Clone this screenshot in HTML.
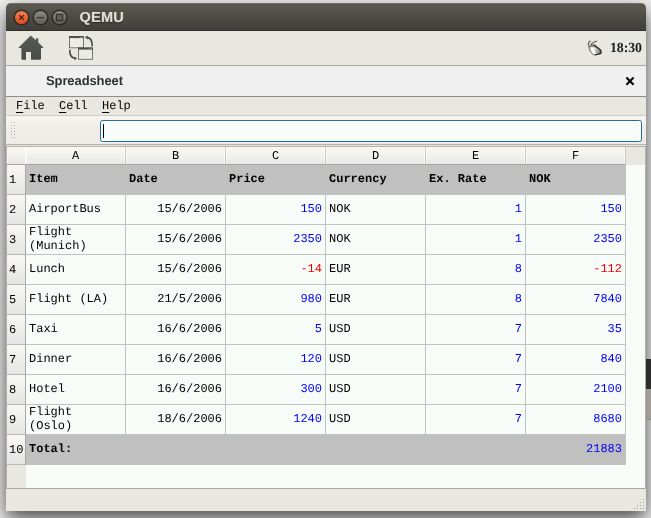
<!DOCTYPE html>
<html>
<head>
<meta charset="utf-8">
<title>QEMU</title>
<style>
html,body{margin:0;padding:0;}
body{text-rendering:geometricPrecision;width:651px;height:518px;overflow:hidden;position:relative;background:#e9e9e9;font-family:"Liberation Mono",monospace;font-size:12px;color:#000;}
#desk{position:absolute;left:0;top:0;width:651px;height:518px;background:#f0f0f0;}
#deskr1{position:absolute;left:646px;top:359px;width:5px;height:30px;background:linear-gradient(90deg,#2a2a2a,#2e2e2e);}
#deskr2{position:absolute;left:646px;top:389px;width:5px;height:30px;background:linear-gradient(90deg,#9c9894,#a29e9a);}
#deskr3{position:absolute;left:646px;top:419px;width:5px;height:1px;background:#8c8c8c;}
#win{will-change:transform;position:absolute;left:6px;top:3px;width:640px;height:508px;background:#e8e8e0;border-radius:5px 5px 0 0;box-shadow:0 8px 20px 0 rgba(0,0,0,.7);overflow:hidden;}
#tb{position:absolute;left:0;top:0;width:640px;height:28px;background:linear-gradient(#5c5a50,#3e3d38);box-shadow:inset 0 1px 0 rgba(255,255,255,.13),inset 0 -1px 0 rgba(0,0,0,.22);}
.wb{position:absolute;top:7px;width:15px;height:15px;border-radius:50%;box-sizing:border-box;border:1px solid #33322d;}
#wtitle{position:absolute;left:73.5px;top:7px;font-family:"Liberation Sans",sans-serif;font-weight:bold;font-size:14.5px;color:#e4e0d6;line-height:17px;letter-spacing:.25px;text-shadow:-.5px 0 0 rgba(60,100,220,.5),.5px 0 0 rgba(235,150,60,.5),0 1px 1px rgba(0,0,0,.5);}
#content{position:absolute;left:0;top:28px;width:640px;height:480px;background:#e8e8e0;}
#clock{position:absolute;left:604px;top:10px;font-family:"Liberation Serif",serif;font-weight:bold;font-size:13.9px;color:#17201f;line-height:16px;letter-spacing:-.1px;text-rendering:geometricPrecision;}
#l1{position:absolute;left:0;top:34px;width:640px;height:1px;background:#a9a7a0;}
#ttl{position:absolute;left:0;top:35px;width:640px;height:30px;background:#f0f0f0;}
#ttl span{position:absolute;left:40px;top:7px;font-family:"Liberation Sans",sans-serif;font-weight:bold;font-size:13px;line-height:16px;color:#2a3434;letter-spacing:-.1px;}
#l2{position:absolute;left:0;top:65px;width:640px;height:1px;background:#8f8d88;}
#menu{position:absolute;left:0;top:66px;width:640px;height:18px;background:#e8e8e0;}
#menu span{position:absolute;top:2px;line-height:14px;}
#menu u{text-decoration:underline;text-decoration-thickness:1px;text-underline-offset:3px;}
#l3{position:absolute;left:0;top:84px;width:640px;height:1px;background:#cfcdc6;}
#fbar{position:absolute;left:0;top:85px;width:640px;height:28px;background:linear-gradient(#f0f1ec 0,#f9f5ee 1.5px,#f7f3ec 5px,#f1eee9 9px,#efece8 100%);}
#inp{position:absolute;left:94px;top:4px;width:542px;height:22px;box-sizing:border-box;border:1.5px solid #226f9c;border-radius:2.5px;background:#f8fcf8;}
#cur{position:absolute;left:97px;top:8px;width:1px;height:14px;background:#000;}
#l4{position:absolute;left:0;top:113px;width:640px;height:1px;background:#b3b1aa;}
#l5{position:absolute;left:0;top:115px;width:640px;height:1px;background:#b3b1aa;}
#tbl{position:absolute;left:1px;top:116px;width:638px;height:341px;background:#f8fcf8;}
#rhbg{position:absolute;left:0;top:18px;width:19px;height:323px;background:#e8e8e0;}
#hh{position:absolute;left:0;top:0;width:638px;height:18px;background:#e8e8e0;}
.ch{position:absolute;top:0;height:17px;width:99px;border-right:1px solid #c9c6c4;border-bottom:1px solid #a6a69f;background:linear-gradient(#f9f7f2 0%,#f6f4ee 35%,#eef1ee 52%,#efede9 68%,#e6e8e8 100%);box-shadow:inset 1px 0 0 rgba(255,255,255,.6),inset -1px 0 0 rgba(255,255,255,.6);text-align:center;line-height:19px;}
.rh{position:absolute;left:0;width:18px;height:29px;border-right:1px solid #a9a8a2;border-bottom:1px solid #b9b8b2;background:linear-gradient(#f9f7f3,#e3e5e5);line-height:31px;padding-left:0;text-indent:2px;}
.row{position:absolute;left:19px;width:600px;height:30px;}
.c{position:absolute;top:0;width:99px;height:29px;border-right:1px solid #c0c4c0;border-bottom:1px solid #c0c4c0;box-sizing:content-box;}
.c span{position:absolute;left:3px;right:3px;top:7px;line-height:14px;white-space:pre;}
.c span.two{top:0;}
.r span{text-align:right;color:#0000f8;}
.neg span{color:#f80000;}
.dt span{color:#000;}
.g .c{background:#c0c0c0;font-weight:bold;}
.g .r{font-weight:normal;}
#fl{position:absolute;left:0;top:115px;width:1px;height:343px;background:#b2aeaa;}
#fr{position:absolute;left:639px;top:115px;width:1px;height:343px;background:#b2aeaa;}
#sb{position:absolute;left:0;top:458px;width:640px;height:22px;background:#e8e8e0;}
#l6{position:absolute;left:0;top:457px;width:640px;height:1px;background:#a9a7a0;}
.d2{position:absolute;width:1px;height:1px;background:#b5b2aa;}
.d{position:absolute;width:1px;height:1px;background:#a39f95;}
</style>
</head>
<body>
<div id="desk"></div>
<div id="win">
 <div id="tb">
  <svg width="80" height="28" viewBox="6 3 80 28" style="position:absolute;left:0;top:0">
   <defs>
    <linearGradient id="cg" x1="0" y1="0" x2="0" y2="1"><stop offset="0" stop-color="#f58158"/><stop offset="1" stop-color="#e14d17"/></linearGradient>
    <linearGradient id="gg" x1="0" y1="0" x2="0" y2="1"><stop offset="0" stop-color="#908f87"/><stop offset="1" stop-color="#5c5b54"/></linearGradient>
   </defs>
   <circle cx="21.5" cy="17.5" r="7.3" fill="url(#cg)" stroke="#2c2b27" stroke-width="1.5"/>
   <circle cx="40.5" cy="17.5" r="7.3" fill="url(#gg)" stroke="#2c2b27" stroke-width="1.5"/>
   <circle cx="59.5" cy="17.5" r="7.3" fill="url(#gg)" stroke="#2c2b27" stroke-width="1.5"/>
   <path d="M19.1 15.1 L23.9 19.9 M23.9 15.1 L19.1 19.9" stroke="#3b1d12" stroke-width="1.25" fill="none"/>
   <path d="M36.9 17.6 L44.1 17.6" stroke="#34332f" stroke-width="1.3" fill="none"/>
   <rect x="56.4" y="14.4" width="6.2" height="6.2" fill="#5f5e57" stroke="#34332f" stroke-width="1.3"/>
  </svg>
  <div id="wtitle">QEMU</div>
 </div>
 <div id="content">
  <svg id="icons" width="640" height="34" viewBox="6 31 640 34" style="position:absolute;left:0;top:0">
   <defs>
    <linearGradient id="hg" x1="0" y1="0" x2="0" y2="1"><stop offset="0" stop-color="#575c57"/><stop offset="1" stop-color="#464b47"/></linearGradient>
    <linearGradient id="mg" x1="0" y1="0" x2="1" y2="0"><stop offset="0" stop-color="#c8c8c8"/><stop offset=".5" stop-color="#ffffff"/><stop offset="1" stop-color="#f4f4f4"/></linearGradient><linearGradient id="mg2" x1="0" y1="0" x2="1" y2="0"><stop offset="0" stop-color="#e6e6e6"/><stop offset="1" stop-color="#6e6e6e"/></linearGradient>
   </defs>
   <path fill="url(#hg)" d="M30.8 35.5 L35.9 40.3 L35.9 38.2 L38.3 38.2 L38.3 42.6 L43.2 47.2 L43.2 48 L41 48 L41 58.7 q0 1 -1 1 L31 59.7 L31 52.1 L26 52.1 L26 59.7 L22.4 59.7 q-1 0 -1 -1 L21.4 48 L18.8 48 L18.8 47.2 Z"/>
   <g>
    <rect x="69.5" y="36.5" width="14" height="11.3" fill="#ecebe5" stroke="#666b66" stroke-width=".9"/>
    <rect x="69" y="36" width="15" height="2.1" fill="#4b504b"/><rect x="79.5" y="36.9" width="3.4" height=".9" fill="#8a8f8a"/>
    <rect x="78.5" y="48" width="14" height="11.3" fill="#ecebe5" stroke="#666b66" stroke-width=".9"/>
    <rect x="78" y="47.5" width="15" height="2.1" fill="#4b504b"/><rect x="88.5" y="48.4" width="3.4" height=".9" fill="#8a8f8a"/>
    <path d="M92.2 46.2 C92.4 40.5 90.5 37.8 86.8 37.4" fill="none" stroke="#4b504b" stroke-width="1.7"/>
    <path d="M84.9 37.3 L87.6 35.6 L87.6 39.4 Z" fill="#4b504b"/>
    <path d="M69.8 49.8 C69.6 55.4 71.5 58 75.2 58.3" fill="none" stroke="#4b504b" stroke-width="1.7"/>
    <path d="M77.1 58.3 L74.4 56.4 L74.4 60.2 Z" fill="#4b504b"/>
   </g>
   <g>
    <path d="M589.6 47.6 C587.9 45 588 42.6 590.4 40.8" fill="none" stroke="#6a6a6a" stroke-width="1.3"/>
    <path d="M591.2 45 C591 42.8 593.4 42.2 597 41.2" fill="none" stroke="#505050" stroke-width="1.2"/>
    <path d="M589.3 47 L591.7 44.8 L594.7 44.9 L600.8 50.3 L594 47.4 Z" fill="#8e8e8e"/>
    <path d="M589.3 47 L594 47.4 L595.5 53.7 L594.8 55 L592.6 54.2 L589.3 49.8 Z" fill="url(#mg)"/>
    <path d="M594 47.4 L600.8 50.3 L601 53.3 L594.8 55 L595.5 53.7 Z" fill="url(#mg2)"/>
    <path d="M589.3 47 L591.7 44.8 L594.7 44.9 L600.8 50.3 L601 53.3 L594.8 55 L592.6 54.2 L589.3 49.8 Z" fill="none" stroke="#5a5a5a" stroke-width=".9" stroke-linejoin="round"/>
    <path d="M594.2 44.9 L600.8 50.3 L601 53.3 L595.2 55" fill="none" stroke="#2c2c2c" stroke-width="1.2" stroke-linejoin="round"/>
   </g>
  </svg>
  <div id="clock">18:30</div>
  <div id="l1"></div>
  <div id="ttl"><span>Spreadsheet</span><svg width="12" height="12" viewBox="624 75 12 12" style="position:absolute;left:618px;top:9px"><path d="M626.4 77.5 L633.6 84.7 M633.6 77.5 L626.4 84.7" stroke="#000" stroke-width="2" fill="none"/></svg></div>
  <div id="l2"></div>
  <div id="menu"><span style="left:10px"><u>F</u>ile</span><span style="left:53px"><u>C</u>ell</span><span style="left:96px"><u>H</u>elp</span></div>
  <div id="l3"></div>
  <div id="fbar"><div class="d2" style="left:5px;top:6px"></div><div class="d2" style="left:8px;top:6px"></div><div class="d2" style="left:5px;top:9px"></div><div class="d2" style="left:8px;top:9px"></div><div class="d2" style="left:5px;top:12px"></div><div class="d2" style="left:8px;top:12px"></div><div class="d2" style="left:5px;top:15px"></div><div class="d2" style="left:8px;top:15px"></div><div class="d2" style="left:5px;top:18px"></div><div class="d2" style="left:8px;top:18px"></div><div class="d2" style="left:5px;top:21px"></div><div class="d2" style="left:8px;top:21px"></div><div id="inp"></div><div id="cur"></div></div>
  <div id="l4"></div><div id="l5"></div>
  <div id="tbl">
   <div id="hh"></div><div id="rhbg"></div>
   <div class="ch" style="left:19px">A</div>
   <div class="ch" style="left:119px">B</div>
   <div class="ch" style="left:219px">C</div>
   <div class="ch" style="left:319px">D</div>
   <div class="ch" style="left:419px">E</div>
   <div class="ch" style="left:519px">F</div>
   <div class="ch" style="left:0;width:19px;border-right:0"></div>
   <div class="rh" style="top:18px">1</div>
   <div class="row g" style="top:18px"><div class="c" style="left:0px"><span>Item</span></div><div class="c" style="left:100px"><span>Date</span></div><div class="c" style="left:200px"><span>Price</span></div><div class="c" style="left:300px"><span>Currency</span></div><div class="c" style="left:400px"><span>Ex. Rate</span></div><div class="c" style="left:500px"><span>NOK</span></div></div>
   <div class="rh" style="top:48px">2</div>
   <div class="row" style="top:48px"><div class="c" style="left:0px"><span>AirportBus</span></div><div class="c r dt" style="left:100px"><span>15/6/2006</span></div><div class="c r" style="left:200px"><span>150</span></div><div class="c" style="left:300px"><span>NOK</span></div><div class="c r" style="left:400px"><span>1</span></div><div class="c r" style="left:500px"><span>150</span></div></div>
   <div class="rh" style="top:78px">3</div>
   <div class="row" style="top:78px"><div class="c" style="left:0px"><span class="two">Flight<br>(Munich)</span></div><div class="c r dt" style="left:100px"><span>15/6/2006</span></div><div class="c r" style="left:200px"><span>2350</span></div><div class="c" style="left:300px"><span>NOK</span></div><div class="c r" style="left:400px"><span>1</span></div><div class="c r" style="left:500px"><span>2350</span></div></div>
   <div class="rh" style="top:108px">4</div>
   <div class="row" style="top:108px"><div class="c" style="left:0px"><span>Lunch</span></div><div class="c r dt" style="left:100px"><span>15/6/2006</span></div><div class="c r neg" style="left:200px"><span>-14</span></div><div class="c" style="left:300px"><span>EUR</span></div><div class="c r" style="left:400px"><span>8</span></div><div class="c r neg" style="left:500px"><span>-112</span></div></div>
   <div class="rh" style="top:138px">5</div>
   <div class="row" style="top:138px"><div class="c" style="left:0px"><span>Flight (LA)</span></div><div class="c r dt" style="left:100px"><span>21/5/2006</span></div><div class="c r" style="left:200px"><span>980</span></div><div class="c" style="left:300px"><span>EUR</span></div><div class="c r" style="left:400px"><span>8</span></div><div class="c r" style="left:500px"><span>7840</span></div></div>
   <div class="rh" style="top:168px">6</div>
   <div class="row" style="top:168px"><div class="c" style="left:0px"><span>Taxi</span></div><div class="c r dt" style="left:100px"><span>16/6/2006</span></div><div class="c r" style="left:200px"><span>5</span></div><div class="c" style="left:300px"><span>USD</span></div><div class="c r" style="left:400px"><span>7</span></div><div class="c r" style="left:500px"><span>35</span></div></div>
   <div class="rh" style="top:198px">7</div>
   <div class="row" style="top:198px"><div class="c" style="left:0px"><span>Dinner</span></div><div class="c r dt" style="left:100px"><span>16/6/2006</span></div><div class="c r" style="left:200px"><span>120</span></div><div class="c" style="left:300px"><span>USD</span></div><div class="c r" style="left:400px"><span>7</span></div><div class="c r" style="left:500px"><span>840</span></div></div>
   <div class="rh" style="top:228px">8</div>
   <div class="row" style="top:228px"><div class="c" style="left:0px"><span>Hotel</span></div><div class="c r dt" style="left:100px"><span>16/6/2006</span></div><div class="c r" style="left:200px"><span>300</span></div><div class="c" style="left:300px"><span>USD</span></div><div class="c r" style="left:400px"><span>7</span></div><div class="c r" style="left:500px"><span>2100</span></div></div>
   <div class="rh" style="top:258px">9</div>
   <div class="row" style="top:258px"><div class="c" style="left:0px"><span class="two">Flight<br>(Oslo)</span></div><div class="c r dt" style="left:100px"><span>18/6/2006</span></div><div class="c r" style="left:200px"><span>1240</span></div><div class="c" style="left:300px"><span>USD</span></div><div class="c r" style="left:400px"><span>7</span></div><div class="c r" style="left:500px"><span>8680</span></div></div>
   <div class="rh" style="top:288px">10</div>
   <div class="row g" style="top:288px"><div class="c" style="left:0px"><span>Total:</span></div><div class="c r dt" style="left:100px"><span></span></div><div class="c r" style="left:200px"><span></span></div><div class="c" style="left:300px"><span></span></div><div class="c r" style="left:400px"><span></span></div><div class="c r" style="left:500px"><span>21883</span></div></div>
  </div>
  <div id="l6"></div><div id="fl"></div><div id="fr"></div>
  <div id="sb"><div class="d" style="left:637px;top:10px"></div><div class="d" style="left:634px;top:13px"></div><div class="d" style="left:637px;top:13px"></div><div class="d" style="left:631px;top:16px"></div><div class="d" style="left:634px;top:16px"></div><div class="d" style="left:637px;top:16px"></div><div class="d" style="left:628px;top:19px"></div><div class="d" style="left:631px;top:19px"></div><div class="d" style="left:634px;top:19px"></div><div class="d" style="left:637px;top:19px"></div></div>
 </div>
</div>
<div id="deskr1"></div><div id="deskr2"></div><div id="deskr3"></div>
</body>
</html>
